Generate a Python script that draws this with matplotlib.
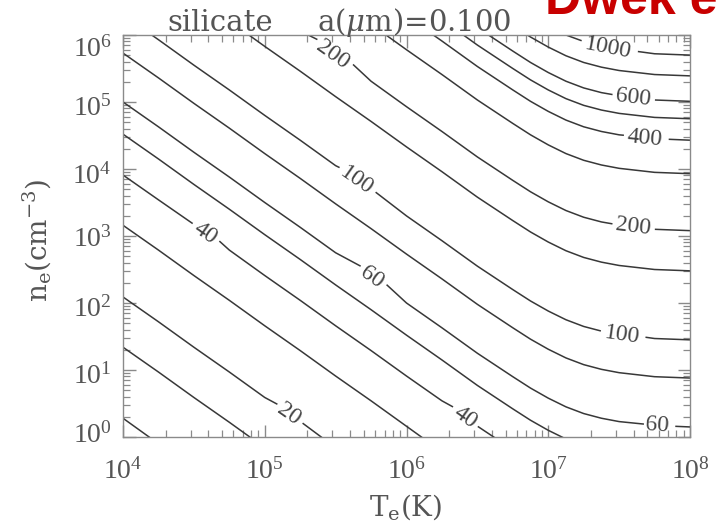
import numpy as np
import matplotlib
matplotlib.use("Agg")
import matplotlib.pyplot as plt
import matplotlib.transforms as mtrans
from matplotlib.contour import ContourSet

# ---- data (log10 values) ----
levels = [10, 15, 20, 30, 40, 50, 60, 80, 100, 150, 200, 300, 400, 500, 600, 800, 1000]
log_te = [4.0, 4.25, 4.5, 4.75, 5.0, 5.25, 5.5, 5.75, 6.0, 6.25, 6.5, 6.75, 6.875,
          7.0, 7.125, 7.25, 7.375, 7.5, 7.75, 8.0]

log_ne_10 = [0.28, -0.10, -0.47, -0.85, -1.22, -1.60, -1.97, -2.35, -2.72, -3.10, -3.47, -3.82, -3.99, -4.14, -4.27, -4.37, -4.44, -4.49, -4.55, -4.57]
log_ne_15 = [1.34, 0.97, 0.59, 0.22, -0.16, -0.54, -0.91, -1.29, -1.66, -2.04, -2.41, -2.76, -2.93, -3.08, -3.21, -3.31, -3.38, -3.43, -3.49, -3.51]
log_ne_20 = [2.09, 1.72, 1.34, 0.97, 0.59, 0.22, -0.16, -0.54, -0.91, -1.29, -1.66, -2.01, -2.18, -2.33, -2.46, -2.56, -2.63, -2.68, -2.74, -2.76]
log_ne_30 = [3.16, 2.79, 2.41, 2.04, 1.66, 1.29, 0.91, 0.54, 0.16, -0.22, -0.59, -0.94, -1.11, -1.26, -1.39, -1.49, -1.56, -1.61, -1.67, -1.69]
log_ne_40 = [3.91, 3.54, 3.16, 2.79, 2.41, 2.04, 1.66, 1.29, 0.91, 0.54, 0.16, -0.19, -0.36, -0.51, -0.64, -0.74, -0.81, -0.86, -0.92, -0.94]
log_ne_50 = [4.52, 4.15, 3.77, 3.40, 3.02, 2.65, 2.27, 1.90, 1.52, 1.15, 0.77, 0.42, 0.25, 0.10, -0.03, -0.13, -0.20, -0.25, -0.31, -0.33]
log_ne_60 = [5.00, 4.63, 4.25, 3.88, 3.50, 3.13, 2.75, 2.38, 2.00, 1.63, 1.25, 0.90, 0.73, 0.58, 0.45, 0.35, 0.28, 0.23, 0.17, 0.15]
log_ne_80 = [5.73, 5.36, 4.98, 4.61, 4.23, 3.86, 3.48, 3.11, 2.73, 2.36, 1.98, 1.63, 1.46, 1.31, 1.18, 1.08, 1.01, 0.96, 0.90, 0.88]
log_ne_100 = [6.30, 5.93, 5.55, 5.18, 4.80, 4.43, 4.05, 3.68, 3.30, 2.93, 2.55, 2.20, 2.03, 1.88, 1.75, 1.65, 1.58, 1.53, 1.47, 1.45]
log_ne_150 = [7.33, 6.96, 6.58, 6.21, 5.83, 5.46, 5.08, 4.71, 4.33, 3.96, 3.58, 3.23, 3.06, 2.91, 2.78, 2.68, 2.61, 2.56, 2.50, 2.48]
log_ne_200 = [7.93, 7.56, 7.18, 6.81, 6.43, 6.06, 5.68, 5.31, 4.93, 4.56, 4.18, 3.83, 3.66, 3.51, 3.38, 3.28, 3.21, 3.16, 3.10, 3.08]
log_ne_300 = [8.78, 8.41, 8.03, 7.66, 7.28, 6.91, 6.53, 6.16, 5.78, 5.41, 5.03, 4.68, 4.51, 4.36, 4.23, 4.13, 4.06, 4.01, 3.95, 3.93]
log_ne_400 = [9.28, 8.91, 8.53, 8.16, 7.78, 7.41, 7.03, 6.66, 6.28, 5.91, 5.53, 5.18, 5.01, 4.86, 4.73, 4.63, 4.56, 4.51, 4.45, 4.43]
log_ne_500 = [9.60, 9.23, 8.85, 8.48, 8.10, 7.73, 7.35, 6.98, 6.60, 6.23, 5.85, 5.50, 5.33, 5.18, 5.05, 4.95, 4.88, 4.83, 4.77, 4.75]
log_ne_600 = [9.86, 9.49, 9.11, 8.74, 8.36, 7.99, 7.61, 7.24, 6.86, 6.49, 6.11, 5.76, 5.59, 5.44, 5.31, 5.21, 5.14, 5.09, 5.03, 5.01]
log_ne_800 = [10.24, 9.87, 9.49, 9.12, 8.74, 8.37, 7.99, 7.62, 7.24, 6.87, 6.49, 6.14, 5.97, 5.82, 5.69, 5.59, 5.52, 5.47, 5.41, 5.39]
log_ne_1000 = [10.55, 10.18, 9.80, 9.43, 9.05, 8.68, 8.30, 7.93, 7.55, 7.18, 6.80, 6.45, 6.28, 6.13, 6.00, 5.90, 5.83, 5.78, 5.72, 5.70]

# contour-label anchor points (log Te, log ne)
label_log_te = [5.17, 4.58, 6.41, 5.75, 7.77, 5.65, 7.52, 5.48, 7.60, 7.68, 7.60, 7.42]
label_log_ne = [0.33, 3.04, 0.29, 2.37, 0.17, 3.83, 1.50, 5.71, 3.14, 4.46, 5.06, 5.79]

xticks = [1e4, 1e5, 1e6, 1e7, 1e8]
yticks = [1e0, 1e1, 1e2, 1e3, 1e4, 1e5, 1e6]

all_ne = [log_ne_10, log_ne_15, log_ne_20, log_ne_30, log_ne_40, log_ne_50, log_ne_60,
          log_ne_80, log_ne_100, log_ne_150, log_ne_200, log_ne_300, log_ne_400,
          log_ne_500, log_ne_600, log_ne_800, log_ne_1000]

plt.rcParams['font.family'] = ['Liberation Serif', 'DejaVu Serif']
plt.rcParams['mathtext.fontset'] = 'dejavuserif'

W, H = 718, 523
fig = plt.figure(figsize=(W / 100, H / 100), dpi=100)
ax = fig.add_axes([123 / W, 1 - 437 / H, 567 / W, 402 / H])
ax.set_xscale('log')
ax.set_yscale('log')
ax.set_xlim(1e4, 1e8)
ax.set_ylim(1e0, 1e6)

te = 10 ** np.array(log_te)
allsegs = [[np.column_stack([te, 10 ** np.array(ne)])] for ne in all_ne]
cs = ContourSet(ax, levels, allsegs, colors='#383838', linewidths=1.1)
ax.set_xlim(1e4, 1e8)
ax.set_ylim(1e0, 1e6)

manual = list(zip(10 ** np.array(label_log_te), 10 ** np.array(label_log_ne)))
cs.clabel(fontsize=17, fmt='%d', inline=True, inline_spacing=4,
          manual=manual, colors='#444444')

ax.set_xticks(xticks)
ax.set_yticks(yticks)
ax.tick_params(which='both', direction='in', top=True, right=True,
               color='#8a8a8a', labelcolor='#555555', labelsize=20)
ax.tick_params(which='major', length=9, width=1.0)
ax.tick_params(which='minor', length=5, width=0.9)
ax.tick_params(axis='x', pad=15)
ax.tick_params(axis='y', pad=8)
for s in ax.spines.values():
    s.set_color('#8a8a8a')
    s.set_linewidth(1.0)

# small vertical nudges of the y tick labels (pixels, positive = down)
ytick_nudge = [-5, 3, 3, 0, 4, 3, 11]
for lab, dy in zip(ax.get_yticklabels(), ytick_nudge):
    lab.set_transform(lab.get_transform() +
                      mtrans.ScaledTranslation(0, -dy / 100, fig.dpi_scale_trans))

fig.text(37 / W, 1 - 240 / H, r'n$_{\rm e}$(cm$^{-3}$)', rotation=90,
         ha='center', va='center', fontsize=20, color='#555555', family='DejaVu Serif')
fig.text(406 / W, 1 - 507 / H, r'T$_{\rm e}$(K)', ha='center', va='center',
         fontsize=20, color='#555555', family='DejaVu Serif')
fig.text(167 / W, 1 - 31 / H, 'silicate', ha='left', va='baseline',
         fontsize=21, color='#555555', family='DejaVu Serif')
fig.text(317 / W, 1 - 31 / H, r'a($\mu$m)=0.100', ha='left', va='baseline',
         fontsize=21, color='#555555', family='DejaVu Serif')
fig.text(545 / W, 1 - 14 / H, 'Dwek et al.', ha='left', va='baseline',
         fontsize=36, fontweight='bold', color='#c80000', family='Liberation Sans')

fig.savefig('out.png', dpi=100)
